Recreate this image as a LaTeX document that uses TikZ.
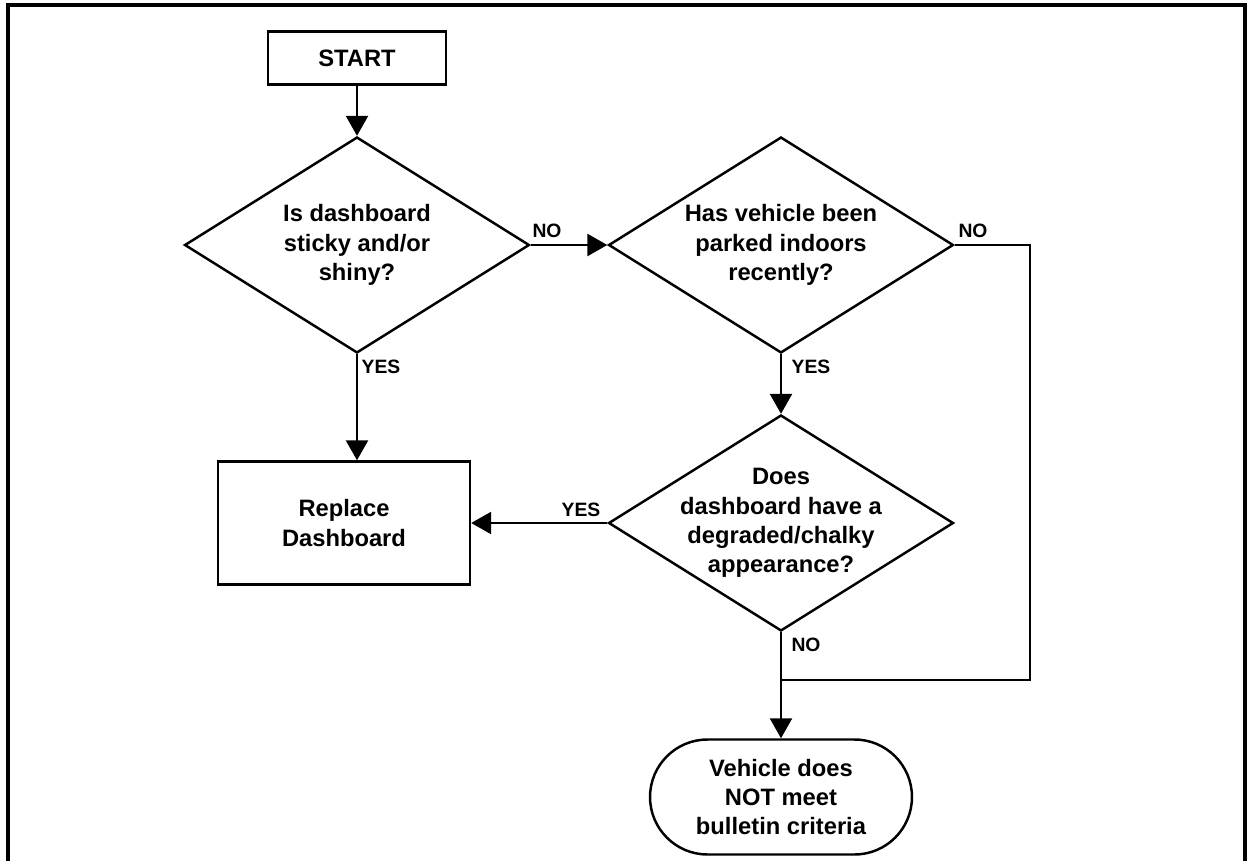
\documentclass[tikz,border=0pt]{standalone}
\usepackage{fontspec}
\setmainfont{Liberation Sans}
\usetikzlibrary{arrows.meta, shapes.geometric, shapes.misc}

\begin{document}
\begin{tikzpicture}[%
        x = 0.02cm,
        y = -0.02cm,
        > = {Triangle[length=0.4cm, width=0.44cm]},
        line width = 1.4pt,
        font = \fontsize{13.5}{16.6}\selectfont\bfseries,
        every node/.style = {align = center},
        boxnode/.style = {draw, rectangle, inner sep = 0pt},
        decision/.style = {draw, diamond, aspect = 1.6, inner sep = -0.4cm,
            minimum width = 6.9cm, minimum height = 4.32cm},
        terminal/.style = {draw, rounded rectangle, inner sep = 0pt,
            minimum width = 5.24cm, minimum height = 2.3cm},
        answer/.style = {font = \fontsize{11}{12}\selectfont\bfseries}
    ]

        % Fix the page size and draw the frame (open at the bottom).
        \useasboundingbox (0, 0) rectangle (1250, 861);
        \draw[line width = 2pt] (8, 861) -- (8, 5) -- (1245, 5) -- (1245, 861);

        % Place the boxes and the decisions.
        \node[boxnode, minimum width = 3.56cm, minimum height = 1.06cm]
            (start) at (357, 58) {START};
        \node[decision] (sticky) at (357, 245) {Is dashboard\\sticky and/or\\shiny?};
        \node[decision] (indoors) at (781, 245) {Has vehicle been\\parked indoors\\recently?};
        \node[decision] (chalky) at (781, 523) {Does\\dashboard have a\\degraded/chalky\\appearance?};
        \node[boxnode, minimum width = 5.04cm, minimum height = 2.46cm]
            (replace) at (344, 523) {Replace\\Dashboard};
        \node[terminal] (notmet) at (781, 797) {Vehicle does\\NOT meet\\bulletin criteria};

        % Point where the two NO branches meet.
        \coordinate (join) at (781, 680);

        % Draw the connectors.
        \draw[->] (start) -- (sticky.north);
        \draw[->] (sticky.east) -- (indoors.west);
        \draw[->] (sticky.south) -- (sticky.south |- replace.north);
        \draw[->] (indoors.south) -- (chalky.north);
        \draw[->] (chalky.west) -- (replace.east);
        \draw (indoors.east) -- (1030, 245) -- (1030, 680) -- (join);
        \draw[->] (chalky.south) -- (join) -- (notmet.north);

        % Label the answers.
        \node[answer] (no1) at (547, 231) {NO};
        \node[answer] (yes1) at (381, 367) {YES};
        \node[answer] (no2) at (973, 231) {NO};
        \node[answer] (yes2) at (811, 367) {YES};
        \node[answer] (yes3) at (581, 510) {YES};
        \node[answer] (no3) at (806, 645) {NO};
    \end{tikzpicture}
\end{document}
